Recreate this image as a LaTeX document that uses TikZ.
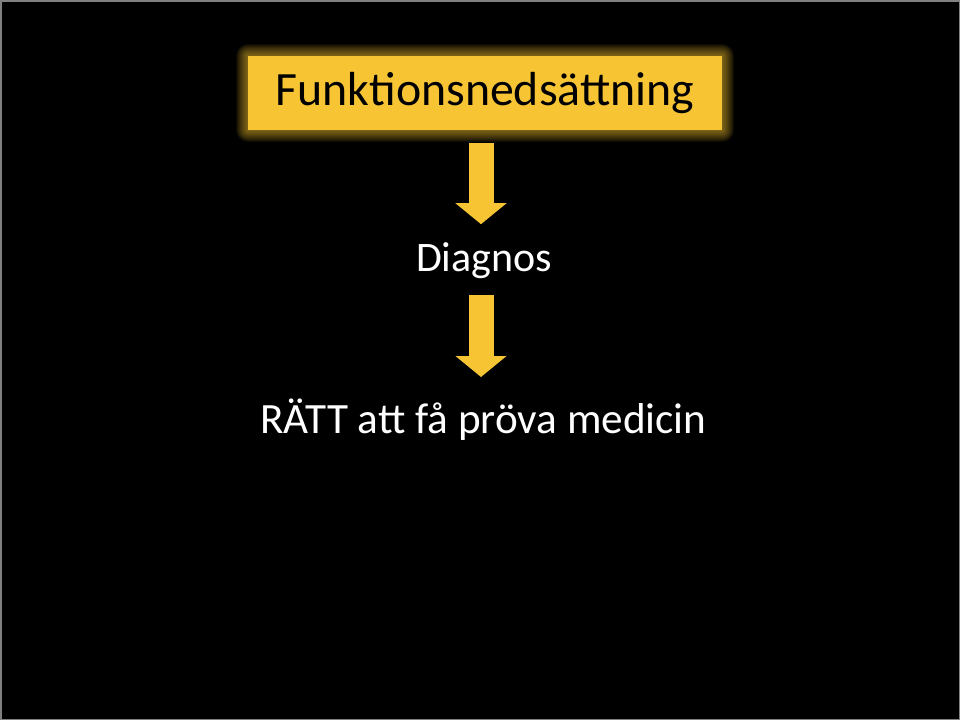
\documentclass[tikz,border=0pt]{standalone}
\usepackage{fontspec}
\setmainfont{Carlito}
\usetikzlibrary{arrows.meta,calc}
\definecolor{Y}{RGB}{247, 197, 52}
\definecolor{K}{RGB}{0, 0, 0}

\begin{document}
\begin{tikzpicture}[x=1pt,y=-1pt,
    pil/.style={draw=Y, line width=25pt, -{Triangle[width=50pt,length=21pt]}},
    rubrik/.style={font=\fontsize{47.8}{56}\selectfont, text=K},
    rad/.style={font=\fontsize{42}{50}\selectfont, text=white, inner sep=0pt, anchor=base}]
   	%Bakgrund
   	\fill[color=K] (0,0) rectangle (960,720);
   	\useasboundingbox (0,0) rectangle (960,720);
   	\draw[color=gray, line width=1.5pt] (0.75,0.75) rectangle (959.25,719.25);

	%Glod runt rutan
	\foreach \i in {1,...,12}
		\fill[color=Y, opacity=0.06, rounded corners=\i pt] (248-\i,56-\i) rectangle (722+\i,130+\i);

	%Rutan med rubriken
   	\node[rubrik, fill=Y, minimum width=474pt, minimum height=74pt, inner sep=0pt] (fn) at (485,93) {Funktionsnedsättning};

	%Textraderna
   	\node[rad] (dg) at (484,271) {Diagnos};
   	\node[rad, font=\fontsize{43.2}{50}\selectfont] (ratt) at (483.5,433) {RÄTT att få pröva medicin};

	%Pilarna
   	\draw[pil] ($(fn.south)+(-4,13)$) -- ($(fn.south)+(-4,94)$);
   	\draw[pil] ($(dg.base)+(-3,24)$) -- ($(dg.base)+(-3,106)$);
 \end{tikzpicture}
\end{document}
